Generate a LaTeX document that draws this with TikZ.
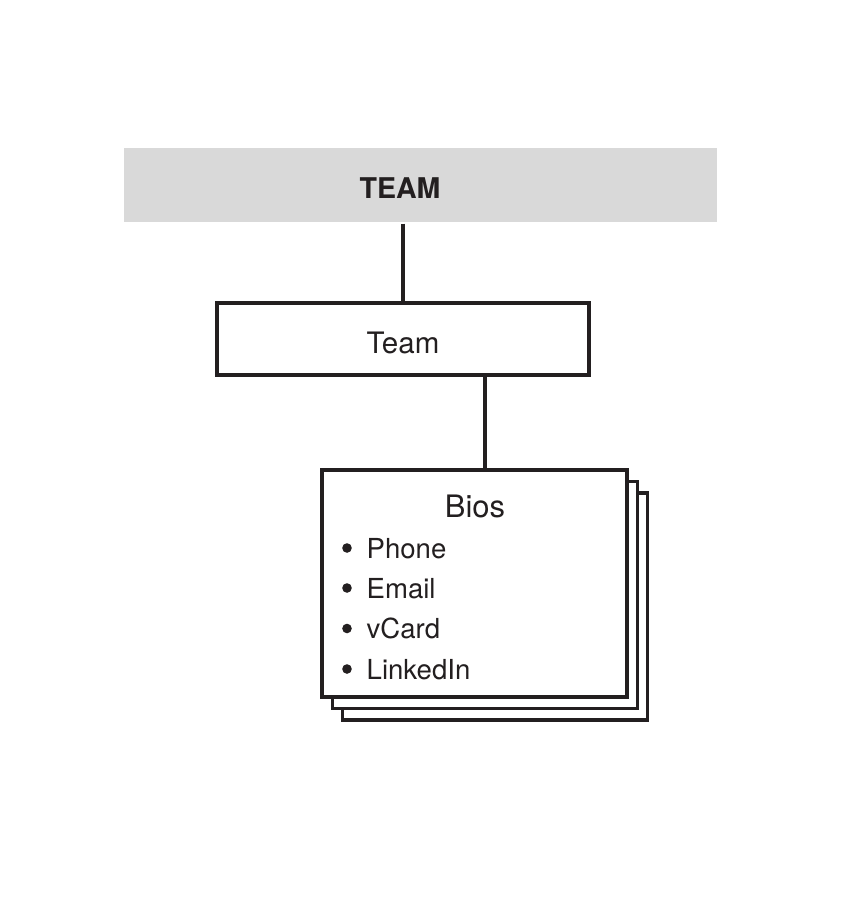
\documentclass[tikz,border=0pt]{standalone}
\usepackage{fontspec}
\setmainfont{TeX Gyre Heros}
\usepackage{xcolor}
\usepackage{tikz}
\usetikzlibrary{positioning, calc}
\definecolor{bandgray}{RGB}{217,217,217}
\definecolor{inkdark}{RGB}{35,31,32}

\begin{document}
\begin{tikzpicture}[
    x=0.025cm, y=-0.025cm,
    line width=2.4pt,
    pagebox/.style={draw=inkdark, fill=white, line width=2.4pt, minimum width=7.625cm, minimum height=5.675cm, inner sep=0pt},
    itemtext/.style={anchor=base west, inner sep=0pt, text=inkdark, font=\fontsize{19.6}{22}\selectfont},
]
    \useasboundingbox (0,0) rectangle (841,904);

    % Header band
    \node[fill=bandgray, minimum width=14.825cm, minimum height=1.85cm, inner sep=0pt] (band) at (420.5,185) {};
    \node[anchor=base, text=inkdark, font=\fontsize{20.3}{24}\selectfont\bfseries] (title) at (400,198) {TEAM};

    % Team page
    \node[draw=inkdark, line width=2.4pt, minimum width=9.3cm, minimum height=1.8cm, inner sep=0pt] (team) at (403,339) {};
    \node[anchor=base, text=inkdark, font=\fontsize{21}{25}\selectfont] (teamtext) at (403,353) {Team};

    % Bios stack
    \node[pagebox] (bios3) at (495,606.5) {};
    \node[pagebox] (bios2) at (485,595) {};
    \node[pagebox] (bios) at (474.5,583.5) {};
    \node[anchor=base, text=inkdark, font=\fontsize{22}{26}\selectfont] (biostitle) at (475,517) {Bios};

    \foreach \txt/\yy [count=\i] in {Phone/558, Email/598, vCard/638.5, LinkedIn/679} {
        \node[itemtext] (item\i) at (365,\yy) {\txt};
        \fill[inkdark] ($(item\i.base west)+(-18,-10)$) circle (0.12cm);
    }

    \draw[inkdark] (band.south -| team.north) -- (team.north);
    \draw[inkdark] ([xshift=2.05cm]team.south) -- ([xshift=2.05cm]team.south |- bios.north);
\end{tikzpicture}
\end{document}
